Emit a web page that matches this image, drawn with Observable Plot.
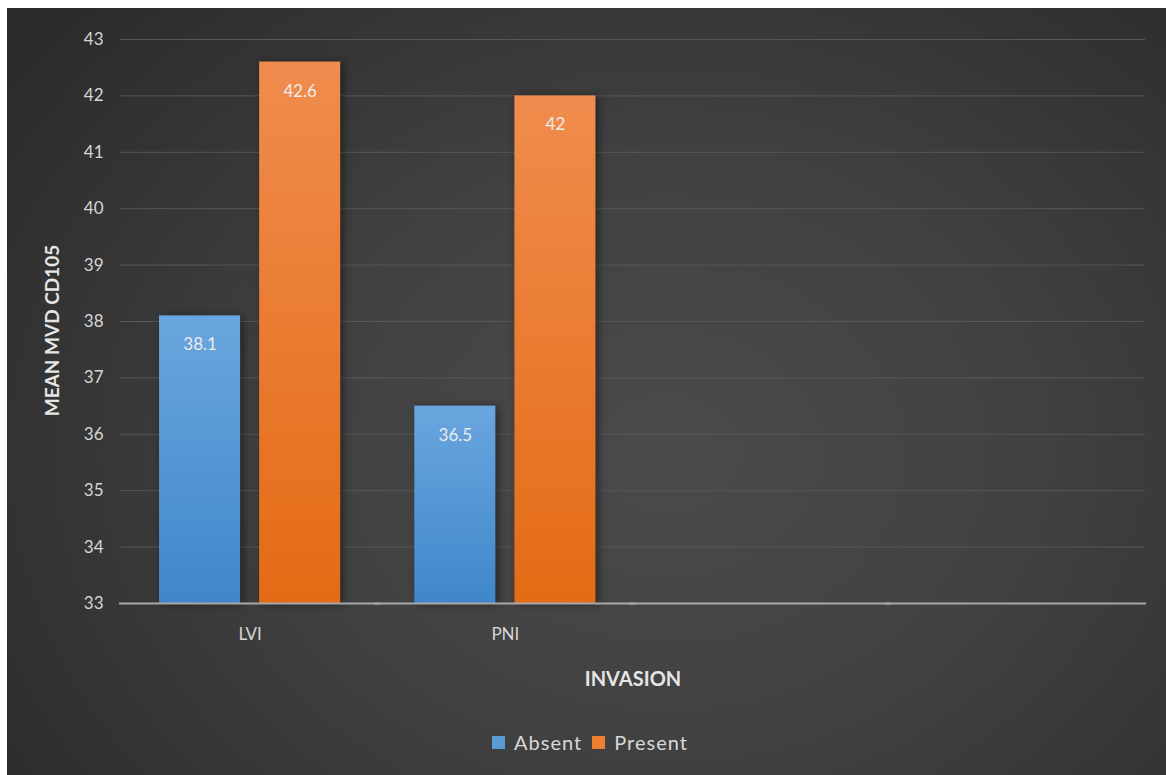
<!DOCTYPE html>
<html><head><meta charset="utf-8">
<script src="https://cdn.jsdelivr.net/npm/d3@7"></script>
<script src="https://cdn.jsdelivr.net/npm/@observablehq/plot@0.6"></script>
<style>
body{margin:0;background:#fff;}
#chart{position:absolute;left:7px;top:8px;width:1159px;height:767px;overflow:hidden;
  background:radial-gradient(ellipse 70% 85% at 57% 58%, #4b4b4b 0%, #414141 45%, #2b2b2b 100%);
  font-family:Lato, "Open Sans", sans-serif;}
#chart svg{position:absolute;left:0;top:0;}
#legend{position:absolute;left:0;top:722px;width:1166px;display:flex;justify-content:center;align-items:center;
  gap:10px;color:#d9d9d9;font-size:20px;letter-spacing:1px;font-family:Lato, sans-serif;}
#legend .sw{display:inline-block;width:13px;height:13px;margin-right:9px;}
#legend .item{display:flex;align-items:center;}
</style></head><body>
<div id="chart"></div>
<script>
const categories = ["LVI", "PNI", " ", "  "];
const series = ["Absent", "Present"];
const absentValues = [38.1, 36.5];
const presentValues = [42.6, 42];
const yTicks = [33, 34, 35, 36, 37, 38, 39, 40, 41, 42, 43];
const seriesColors = ["#5b9bd5", "#ed7d31"];
const yTitle = "MEAN MVD CD105";
const xTitle = "INVASION";

const rows = [];
absentValues.forEach((v, i) => rows.push({category: categories[i], series: series[0], value: v}));
presentValues.forEach((v, i) => rows.push({category: categories[i], series: series[1], value: v}));
const gridRows = categories.flatMap(c => yTicks.slice(1).map(t => ({category: c, tick: t})));
const baseRows = categories.map(c => ({category: c}));

const plot = Plot.plot({
  width: 1159, height: 700,
  marginLeft: 115, marginRight: 23, marginTop: 31, marginBottom: 105,
  style: {background: "transparent", fontFamily: "Lato, sans-serif", fontSize: "17px", color: "#d6d6d6", overflow: "visible"},
  fx: {domain: categories, padding: 0, label: null, round: false},
  x: {domain: series, paddingInner: 0.19, paddingOuter: 0.37, round: false, axis: null},
  y: {domain: [yTicks[0], yTicks[yTicks.length - 1]], axis: null},
  color: {domain: series, range: ["url(#gradAbsent)", "url(#gradPresent)"]},
  marks: [
    Plot.ruleY(gridRows, {fx: "category", y: "tick", stroke: "#575757", strokeWidth: 1, insetLeft: -2, insetRight: -2}),
    Plot.barY(rows, {fx: "category", x: "series", y1: yTicks[0], y2: "value", fill: "series"}),
    Plot.ruleY(baseRows, {fx: "category", y: yTicks[0], stroke: "#a8a8a8", strokeWidth: 2, insetLeft: -3, insetRight: -3}),
    Plot.text(rows, {fx: "category", x: "series", y: "value", text: d => String(d.value), dy: 29, fill: "#ececec", fontSize: 17}),
    Plot.axisY({ticks: yTicks, tickSize: 0, tickPadding: 19, label: yTitle, labelAnchor: "center", labelOffset: 77, fontSize: 17}),
    Plot.axisFx({anchor: "bottom", tickSize: 0, tickPadding: 24, label: xTitle, labelAnchor: "center", labelOffset: 82, fontSize: 17})
  ]
});

const svg = d3.select(plot);
svg.insert("defs", ":first-child").html(`
  <linearGradient id="gradAbsent" x1="0" y1="0" x2="0" y2="1">
    <stop offset="0" stop-color="#6aa6df"/><stop offset="1" stop-color="#3f87ca"/>
  </linearGradient>
  <linearGradient id="gradPresent" x1="0" y1="0" x2="0" y2="1">
    <stop offset="0" stop-color="#f08c4e"/><stop offset="1" stop-color="#e46b15"/>
  </linearGradient>`);
svg.selectAll('g[aria-label="bar"] rect').style("filter", "drop-shadow(3px 1px 4px rgba(0,0,0,0.45))");
svg.selectAll('g[aria-label="y-axis label"] text').text(yTitle);
svg.selectAll('g[aria-label="fx-axis label"] text').text(xTitle);
svg.selectAll('g[aria-label="y-axis label"] text, g[aria-label="fx-axis label"] text')
  .style("font-weight", "bold").attr("fill", "#e6e6e6");
svg.selectAll('g[aria-label="y-axis label"] text').style("font-size", "19px");
svg.selectAll('g[aria-label="fx-axis label"] text').style("font-size", "20px");
svg.selectAll('g[aria-label="y-axis label"]').each(function () {
  const g = d3.select(this);
  g.attr("transform", ((g.attr("transform") || "") + " translate(0,9)").trim());
});

const chart = document.getElementById("chart");
chart.appendChild(plot);

const legend = document.createElement("div");
legend.id = "legend";
series.forEach((s, i) => {
  const item = document.createElement("span");
  item.className = "item";
  const sw = document.createElement("span");
  sw.className = "sw";
  sw.style.background = seriesColors[i];
  item.appendChild(sw);
  item.appendChild(document.createTextNode(s));
  legend.appendChild(item);
});
chart.appendChild(legend);
</script>
</body></html>
